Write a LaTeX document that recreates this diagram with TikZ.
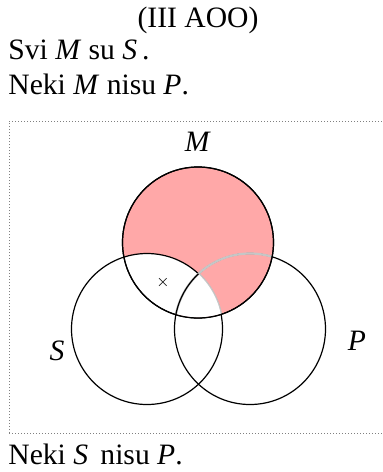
\documentclass[tikz,border=0pt]{standalone}
\usepackage{fontspec}
\setmainfont{Liberation Serif}
\definecolor{shadepink}{RGB}{255,168,168}
\tikzset{
  set/.style={line width=0.6pt},
  faint/.style={line width=1.1pt,gray!45},
  txt/.style={anchor=base west,inner sep=0pt},
}
\begin{document}
\begin{tikzpicture}[x=0.5pt,y=-0.5pt,font=\fontsize{14.8}{17}\selectfont]
\useasboundingbox (0,0) rectangle (382,472);
%tekst
\node[anchor=base,inner sep=0pt] (title) at (198,27) {(III AOO)};
\node[txt] (prem1) at (8,59) {Svi \textit{M} su \textit{S}\,.};
\node[txt] (prem2) at (8,94) {Neki \textit{M} nisu \textit{P}.};
\node[txt] (concl) at (8,464) {Neki \textit{S}\, nisu \textit{P}.};
%okvir
\draw[densely dotted,gray,line width=0.5pt] (9,433) -- (9,121) -- (384,121) (9,433) -- (384,433);
%centri
\coordinate (cM) at (198,242.5);
\coordinate (cS) at (147,329);
\coordinate (cP) at (250,329);
%sjencanje
\begin{scope}
\clip (cM) circle (75.5);
\fill[shadepink] (cM) circle (75.5);
\fill[white] (cS) circle (75.5);
\end{scope}
\draw[set] (cM) circle (75.5);
\draw[set] (cS) circle (75.5);
\draw[set] (cP) circle (75.5);
\begin{scope}
\clip (cM) circle (74.8);
\clip (cP) circle (75.5);
\fill[shadepink] (cS) circle (76.2);
\draw[faint] (cS) circle (75.5);
\fill[white] (cS) circle (75.2);
\end{scope}
\begin{scope}
\clip (cM) circle (74.8);
\draw[faint] (cP) circle (75.5);
\end{scope}
\begin{scope}
\clip (cM) circle (75.5);
\clip (cS) circle (75.5);
\draw[set] (cP) circle (75.5);
\end{scope}
\draw[set] (cM) circle (75.5);
%oznake
\node[anchor=base,inner sep=0pt] (lM) at (198,151) {\textit{M}};
\node[anchor=base,inner sep=0pt] (lS) at (57,360) {\textit{S}};
\node[anchor=base,inner sep=0pt] (lP) at (357,350) {\textit{P}};
\node[inner sep=0pt,font=\fontsize{8}{8}\selectfont] (x) at (163,282) {$\times$};
\end{tikzpicture}
\end{document}
